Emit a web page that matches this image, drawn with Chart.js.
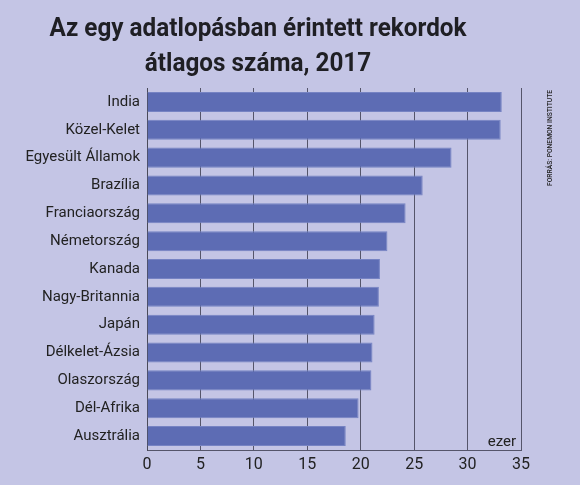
<!DOCTYPE html>
<html>
<head>
<meta charset="utf-8">
<script src="https://cdn.jsdelivr.net/npm/chart.js@4.4.1/dist/chart.umd.min.js"></script>
<style>
  html, body { margin: 0; padding: 0; background: #c4c5e5; }
  #wrap { width: 580px; height: 485px; position: relative; }
</style>
</head>
<body>
<div id="wrap"><canvas id="c" width="580" height="485"></canvas></div>
<script>
const categories = ["India", "Közel-Kelet", "Egyesült Államok", "Brazília", "Franciaország", "Németország", "Kanada", "Nagy-Britannia", "Japán", "Délkelet-Ázsia", "Olaszország", "Dél-Afrika", "Ausztrália"];
const values = [33.2, 33.1, 28.5, 25.8, 24.2, 22.5, 21.8, 21.7, 21.3, 21.1, 21.0, 19.8, 18.6];
const titleLines = ["Az egy adatlopásban érintett rekordok", "átlagos száma, 2017"];
const sourceText = "FORRÁS: PONEMON INSTITUTE";
const unitText = "ezer";

const textPlugin = {
  id: 'texts',
  afterDraw(chart) {
    const ctx = chart.ctx;
    const area = chart.chartArea;
    ctx.save();
    ctx.fillStyle = '#1f1f24';
    ctx.textAlign = 'center';
    ctx.textBaseline = 'alphabetic';
    ctx.font = 'bold 25px Roboto, sans-serif';
    const w = ctx.measureText(titleLines[0]).width;
    const sx = Math.min(1, 417 / w);
    ctx.save();
    ctx.translate(258, 0);
    ctx.scale(sx, 1);
    ctx.fillText(titleLines[0], 0, 36);
    ctx.fillText(titleLines[1], 0, 71);
    ctx.restore();
    // unit label
    ctx.font = '15px Roboto, sans-serif';
    ctx.textAlign = 'right';
    ctx.fillStyle = '#222';
    ctx.fillText(unitText, area.right - 5, area.bottom - 4);
    // source
    ctx.translate(550, 138);
    ctx.rotate(-Math.PI / 2);
    ctx.textAlign = 'center';
    ctx.textBaseline = 'middle';
    ctx.font = '500 7.5px Roboto, sans-serif';
    const sw = ctx.measureText(sourceText).width;
    ctx.scale(Math.min(1, 96 / sw), 1);
    ctx.fillStyle = '#222';
    ctx.fillText(sourceText, 0, 0);
    ctx.restore();
  }
};

new Chart(document.getElementById('c'), {
  type: 'bar',
  data: {
    labels: categories,
    datasets: [{
      data: values,
      backgroundColor: '#5d6cb4',
      borderColor: '#7683c3',
      borderWidth: 1,
      borderSkipped: 'left',
      categoryPercentage: 1,
      barPercentage: 0.72
    }]
  },
  options: {
    indexAxis: 'y',
    responsive: false,
    animation: false,
    devicePixelRatio: 1,
    layout: { padding: { left: 0, right: 59, top: 88, bottom: 0 } },
    plugins: {
      legend: { display: false },
      title: { display: false },
      tooltip: { enabled: false }
    },
    scales: {
      x: {
        min: 0,
        max: 35,
        ticks: {
          stepSize: 5,
          padding: 5,
          color: '#222',
          font: { family: 'Roboto', size: 16 }
        },
        grid: { color: '#55556a', lineWidth: 1, drawTicks: false },
        border: { display: true, color: '#55556a', width: 1 },
        afterFit(scale) { scale.height = 35; }
      },
      y: {
        ticks: {
          padding: 7,
          color: '#222',
          font: { family: 'Roboto', size: 15 }
        },
        grid: { display: false, drawTicks: false },
        border: { display: true, color: '#4a4a58', width: 1 },
        afterFit(scale) { scale.width = 147; }
      }
    }
  },
  plugins: [textPlugin]
});
</script>
</body>
</html>
